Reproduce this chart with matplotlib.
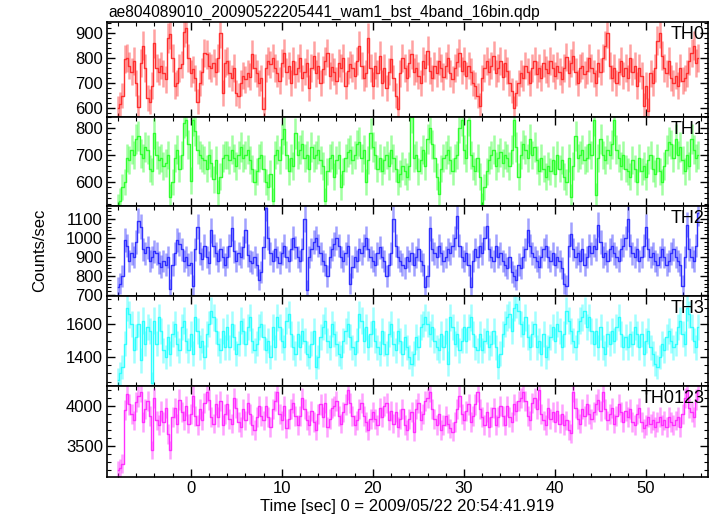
import numpy as np
import matplotlib
matplotlib.use("Agg")
import matplotlib.pyplot as plt
from matplotlib.ticker import MultipleLocator

plt.rcParams['font.family'] = ['Liberation Sans', 'DejaVu Sans']

title = "ae804089010_20090522205441_wam1_bst_4band_16bin.qdp"
xlabel = "Time [sec] 0 = 2009/05/22 20:54:41.919"
ylabel = "Counts/sec"
band_names = ["TH0", "TH1", "TH2", "TH3", "TH0123"]

t_start = -8.0
bin_width = 0.25

th0 = [
    600, 615, 650, 795, 800, 770, 745, 790, 700, 605, 780, 850, 760, 640, 625, 690,
    860, 760, 745, 770, 740, 715, 880, 895, 800, 690, 700, 760, 775, 905, 920, 800,
    740, 755, 720, 625, 700, 745, 820, 815, 770, 760, 780, 745, 800, 900, 660, 780,
    790, 740, 720, 760, 660, 650, 700, 730, 715, 740, 725, 815, 760, 740, 700, 720,
    595, 760, 790, 775, 800, 760, 740, 710, 780, 820, 745, 770, 700, 790, 735, 760,
    800, 720, 745, 780, 680, 760, 810, 740, 770, 700, 755, 790, 820, 730, 765, 745,
    710, 780, 760, 800, 690, 750, 775, 760, 730, 790, 850, 770, 720, 740, 880, 760,
    690, 770, 740, 810, 700, 760, 680, 745, 795, 720, 650, 595, 740, 800, 760, 720,
    780, 815, 745, 760, 730, 700, 790, 760, 830, 750, 720, 770, 740, 790, 760, 725,
    770, 800, 740, 715, 760, 785, 820, 750, 790, 730, 770, 745, 700, 690, 650, 610,
    720, 760, 790, 745, 770, 810, 740, 760, 790, 725, 780, 750, 700, 670, 600, 660,
    700, 740, 720, 770, 745, 700, 760, 790, 735, 760, 720, 780, 755, 740, 790, 760,
    730, 770, 745, 715, 760, 805, 740, 780, 810, 745, 700, 760, 770, 735, 750, 800,
    760, 740, 700, 780, 745, 800, 850, 900, 770, 720, 760, 700, 745, 790, 730, 760,
    720, 800, 745, 770, 690, 760, 730, 610, 690, 590, 740, 700, 760, 870, 900, 810,
    760, 740, 790, 720, 700, 730, 690, 760, 710, 720, 740, 790, 820, 850, 780, 800,
]

th1 = [
    510, 530, 580, 600, 690, 680, 720, 700, 760, 770, 705, 690, 730, 720, 650, 640,
    780, 700, 680, 690, 660, 670, 700, 545, 600, 690, 720, 650, 700, 820, 830, 740,
    605, 830, 790, 720, 700, 690, 680, 650, 700, 670, 610, 680, 560, 620, 690, 700,
    700, 680, 720, 690, 660, 700, 730, 690, 700, 720, 680, 650, 600, 640, 690, 700,
    650, 600, 580, 630, 530, 700, 720, 680, 760, 795, 700, 640, 690, 660, 780, 700,
    720, 740, 690, 700, 650, 730, 690, 700, 720, 680, 660, 530, 640, 690, 700, 620,
    680, 700, 580, 640, 690, 710, 720, 680, 700, 740, 750, 690, 720, 600, 680, 780,
    730, 700, 650, 690, 640, 680, 700, 660, 720, 690, 650, 600, 630, 660, 640, 620,
    660, 840, 690, 700, 640, 680, 720, 660, 760, 800, 740, 690, 620, 555, 650, 690,
    700, 720, 680, 640, 690, 700, 800, 830, 720, 690, 830, 700, 660, 640, 690, 620,
    515, 580, 640, 680, 700, 720, 660, 690, 710, 670, 700, 690, 660, 720, 830, 730,
    620, 700, 740, 720, 690, 760, 700, 730, 680, 640, 690, 650, 620, 660, 640, 680,
    630, 700, 650, 680, 620, 600, 690, 545, 660, 770, 690, 700, 720, 680, 690, 740,
    700, 830, 550, 690, 760, 700, 680, 720, 700, 740, 830, 720, 690, 660, 700, 650,
    640, 620, 680, 650, 600, 690, 640, 660, 620, 680, 700, 650, 630, 690, 640, 600,
    660, 720, 750, 740, 690, 760, 700, 730, 680, 640, 700, 660, 760, 720, 690, 700,
]

th2 = [
    740, 760, 800, 990, 960, 880, 920, 900, 980, 1090, 1060, 940, 920, 950, 880, 900,
    930, 920, 870, 850, 880, 860, 900, 730, 860, 920, 990, 970, 940, 880, 900, 860,
    870, 750, 940, 1060, 920, 890, 960, 900, 870, 1040, 960, 920, 880, 940, 900, 860,
    900, 960, 1050, 930, 880, 920, 900, 950, 1040, 910, 880, 870, 900, 860, 780, 820,
    950, 1155, 1000, 920, 880, 940, 900, 870, 920, 960, 900, 880, 940, 1000, 950, 900,
    880, 940, 1100, 725, 900, 940, 980, 1000, 960, 920, 880, 860, 800, 900, 940, 970,
    1000, 960, 900, 880, 920, 960, 760, 850, 900, 880, 940, 920, 960, 1000, 940, 900,
    880, 860, 920, 950, 900, 880, 800, 860, 920, 1100, 960, 900, 880, 860, 840, 900,
    880, 920, 860, 900, 940, 880, 860, 740, 800, 1050, 940, 920, 900, 960, 920, 880,
    900, 940, 920, 960, 1000, 1115, 960, 900, 880, 920, 860, 740, 880, 940, 900, 960,
    920, 1000, 1065, 940, 900, 880, 960, 900, 920, 880, 860, 840, 900, 820, 800, 780,
    860, 840, 900, 940, 1040, 960, 920, 900, 880, 850, 900, 940, 960, 900, 880, 920,
    860, 900, 880, 840, 760, 750, 960, 1020, 940, 900, 920, 880, 940, 860, 900, 960,
    920, 960, 940, 1070, 980, 900, 920, 880, 940, 960, 920, 900, 880, 940, 960, 1000,
    1100, 960, 920, 900, 940, 880, 900, 960, 1060, 940, 900, 920, 880, 860, 900, 940,
    900, 860, 880, 920, 940, 900, 880, 860, 750, 900, 1070, 940, 900, 880, 960, 1130,
]

th3 = [
    1260, 1300, 1340, 1480, 1700, 1660, 1600, 1440, 1520, 1600, 1380, 1620, 1480, 1580, 1560, 1240,
    1620, 1480, 1640, 1560, 1440, 1400, 1520, 1420, 1540, 1600, 1480, 1440, 1580, 1620, 1500, 1440,
    1540, 1420, 1640, 1560, 1460, 1500, 1400, 1540, 1600, 1680, 1640, 1560, 1480, 1440, 1560, 1460,
    1580, 1460, 1600, 1520, 1420, 1480, 1620, 1560, 1480, 1580, 1640, 1500, 1440, 1480, 1580, 1600,
    1520, 1440, 1500, 1400, 1580, 1460, 1640, 1580, 1500, 1460, 1620, 1660, 1540, 1460, 1420, 1540,
    1460, 1560, 1500, 1420, 1400, 1480, 1560, 1340, 1400, 1520, 1580, 1620, 1500, 1460, 1600, 1540,
    1480, 1420, 1400, 1500, 1560, 1600, 1520, 1460, 1420, 1500, 1660, 1620, 1500, 1580, 1460, 1540,
    1620, 1500, 1460, 1420, 1560, 1480, 1420, 1540, 1600, 1480, 1440, 1560, 1500, 1420, 1520, 1460,
    1400, 1360, 1420, 1520, 1460, 1580, 1600, 1640, 1600, 1540, 1580, 1500, 1460, 1440, 1540, 1460,
    1560, 1360, 1640, 1580, 1480, 1540, 1440, 1500, 1580, 1500, 1580, 1640, 1540, 1460, 1440, 1540,
    1440, 1500, 1560, 1460, 1480, 1560, 1460, 1340, 1420, 1540, 1600, 1640, 1660, 1560, 1700, 1720,
    1680, 1600, 1540, 1640, 1520, 1460, 1540, 1600, 1460, 1500, 1420, 1540, 1400, 1460, 1520, 1580,
    1500, 1600, 1560, 1460, 1540, 1680, 1620, 1560, 1500, 1460, 1560, 1620, 1640, 1680, 1580, 1640,
    1560, 1480, 1560, 1460, 1580, 1460, 1420, 1540, 1480, 1560, 1500, 1580, 1640, 1540, 1460, 1520,
    1460, 1540, 1480, 1580, 1540, 1460, 1540, 1420, 1500, 1560, 1460, 1420, 1360, 1340, 1400, 1480,
    1440, 1520, 1560, 1500, 1460, 1480, 1580, 1620, 1540, 1480, 1700, 1660, 1580, 1500, 1460, 1580,
]

th0123 = [
    3200, 3220, 3280, 3950, 4150, 4020, 3900, 3820, 4050, 4120, 4180, 3800, 3960, 4060, 3880, 3450,
    4100, 3820, 3760, 3940, 3800, 3980, 3650, 3450, 3860, 3980, 3780, 4080, 3920, 3820, 4000, 3780,
    3900, 4120, 3880, 3760, 3960, 3820, 4040, 4180, 4080, 3860, 3780, 4020, 3860, 4060, 3760, 3900,
    4020, 3840, 3780, 4100, 3980, 3800, 3740, 3960, 3820, 4040, 3900, 3760, 3700, 3860, 4000, 3880,
    3820, 4000, 3860, 3740, 3960, 4060, 4180, 3900, 3820, 4000, 3720, 3840, 3960, 4040, 3880, 3760,
    3880, 4100, 3960, 3820, 3760, 3940, 3800, 3700, 3900, 4020, 3860, 4040, 3740, 3840, 3980, 4000,
    4060, 3880, 3780, 3920, 4020, 4200, 4040, 3880, 3760, 3820, 3960, 4040, 3880, 3800, 3700, 3840,
    3920, 3840, 3760, 3980, 3860, 4000, 4040, 3820, 3940, 3780, 3920, 3740, 3840, 3960, 3760, 3700,
    3840, 3920, 3680, 3960, 4040, 3820, 3900, 4060, 4100, 4180, 3960, 3840, 3760, 3900, 3700, 3760,
    3880, 3780, 3720, 3680, 3800, 3960, 4120, 3900, 3820, 3940, 4020, 3800, 3880, 4020, 4180, 3960,
    3860, 3760, 3920, 3740, 3860, 3980, 3760, 3860, 4000, 3880, 3760, 4000, 3860, 3800, 4020, 3940,
    4060, 4100, 4180, 4060, 3880, 3820, 4040, 4100, 3960, 4200, 3900, 3820, 3760, 3980, 3840, 3920,
    3800, 3940, 3780, 3900, 3760, 3820, 3700, 3660, 4180, 3980, 3840, 3780, 3960, 3880, 4020, 3900,
    3840, 3920, 4020, 4080, 3940, 4180, 3960, 3820, 3900, 3980, 3780, 3880, 4020, 3920, 3800, 3940,
    3860, 3960, 3800, 3760, 3900, 3980, 3800, 3720, 3760, 3860, 3780, 3820, 3740, 3800, 3860, 3760,
    3820, 3740, 3860, 3800, 3760, 3820, 3860, 3740, 3900, 4100, 4200, 3980, 3920, 3860, 4080, 4200,
]

series = [th0, th1, th2, th3, th0123]
colors = ["#ff3030", "#30ff30", "#3030ff", "#30ffff", "#ff30ff"]
ylims = [(564, 945), (511, 841), (695, 1168), (1224, 1770), (3112, 4250)]
ymajor = [100, 100, 100, 200, 500]
yminor = [20, 20, 20, 50, 100]

W, H = 717, 516
fig = plt.figure(figsize=(W / 100, H / 100), dpi=100)
bounds = [22, 117, 206, 296, 386, 477]
left, right = 107, 708

axes = []
for i in range(5):
    top_px, bot_px = bounds[i], bounds[i + 1]
    ax = fig.add_axes([left / W, 1 - bot_px / H, (right - left) / W, (bot_px - top_px) / H])
    y = np.array(series[i], dtype=float)
    t = t_start + bin_width * np.arange(len(y))
    err = np.sqrt(y / bin_width)
    ax.vlines(t, y - err, y + err, color=colors[i], lw=1.8, alpha=0.45)
    ax.step(t, y, where='mid', color=colors[i], lw=1.0)
    ax.set_xlim(-9.2, 56.8)
    ax.set_ylim(*ylims[i])
    ax.xaxis.set_major_locator(MultipleLocator(10))
    ax.xaxis.set_minor_locator(MultipleLocator(2))
    ax.yaxis.set_major_locator(MultipleLocator(ymajor[i]))
    ax.yaxis.set_minor_locator(MultipleLocator(yminor[i]))
    ax.tick_params(which='both', direction='in', top=True, right=True, labelsize=12)
    ax.tick_params(which='major', length=6, width=1, pad=3)
    ax.tick_params(which='minor', length=3, width=0.8)
    for s in ax.spines.values():
        s.set_linewidth(1.2)
    if i < 4:
        ax.tick_params(labelbottom=False)
    ax.text(0.995, 0.96, band_names[i], transform=ax.transAxes, ha='right', va='top',
            fontsize=13, color='black')
    axes.append(ax)

fig.text(left / W + 0.002, 1 - 12 / H, title, ha='left', va='center', fontsize=11.2)
fig.text(407 / W, 1 - 506 / H, xlabel, ha='center', va='center', fontsize=12)
fig.text(40 / W, 1 - 250 / H, ylabel, rotation=90, ha='center', va='center', fontsize=12)

fig.savefig("out.png", dpi=100)
